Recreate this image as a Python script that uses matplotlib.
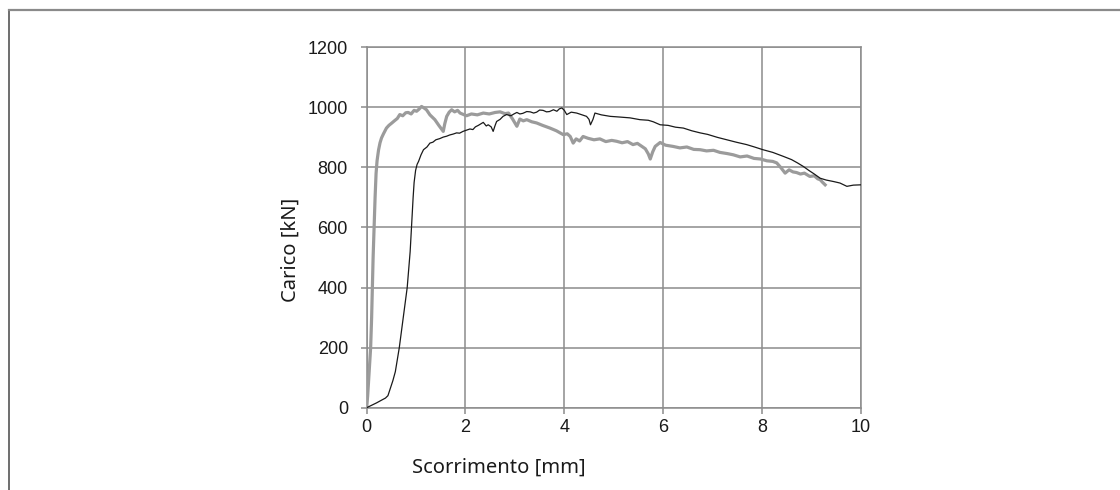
import matplotlib
matplotlib.use('Agg')
import matplotlib.pyplot as plt
from matplotlib.lines import Line2D

# Prova di scorrimento: due provini, carico vs scorrimento
slip_grey = [0.0, 0.02, 0.05, 0.08, 0.10, 0.115, 0.13, 0.15, 0.17, 0.19, 0.21, 0.24,
             0.27, 0.30, 0.34, 0.40, 0.45, 0.51, 0.56, 0.62, 0.67, 0.73, 0.79, 0.84,
             0.90, 0.96, 1.01, 1.06, 1.11, 1.16, 1.21, 1.28, 1.38, 1.46, 1.55, 1.58,
             1.62, 1.67, 1.72, 1.78, 1.84, 1.89, 2.02, 2.12, 2.24, 2.36, 2.48, 2.60,
             2.70, 2.80, 2.87, 2.95, 3.04, 3.10, 3.17, 3.24, 3.34, 3.44, 3.56, 3.71,
             3.84, 3.98, 4.06, 4.12, 4.18, 4.24, 4.31, 4.38, 4.48, 4.60, 4.72, 4.84,
             4.96, 5.06, 5.17, 5.28, 5.39, 5.48, 5.57, 5.64, 5.70, 5.74, 5.79, 5.84,
             5.94, 6.05, 6.20, 6.34, 6.48, 6.62, 6.75, 6.88, 7.02, 7.15, 7.30, 7.42,
             7.56, 7.70, 7.84, 7.97, 8.10, 8.22, 8.30, 8.38, 8.47, 8.55, 8.63, 8.70,
             8.78, 8.86, 8.97, 9.06, 9.13, 9.18, 9.23, 9.28]
load_grey = [0, 40, 120, 200, 300, 400, 500, 600, 700, 780, 822, 858,
             882, 898, 912, 931, 940, 948, 955, 963, 976, 972, 982, 983,
             978, 990, 987, 994, 1003, 998, 992, 975, 959, 940, 920, 945,
             970, 984, 992, 985, 990, 981, 972, 978, 975, 981, 978, 983,
             985, 979, 981, 962, 937, 961, 955, 959, 952, 948, 940, 931,
             922, 909, 912, 903, 881, 895, 888, 903, 897, 892, 895, 886,
             890, 887, 882, 886, 876, 880, 870, 862, 845, 828, 852, 870,
             883, 874, 870, 865, 868, 860, 859, 855, 857, 850, 846, 842,
             835, 838, 830, 828, 822, 820, 815, 800, 781, 792, 785, 783,
             778, 781, 770, 772, 762, 759, 750, 742]

slip_black = [0.0, 0.10, 0.20, 0.30, 0.38, 0.43, 0.48, 0.53, 0.58, 0.62, 0.66, 0.70,
              0.74, 0.78, 0.82, 0.85, 0.88, 0.90, 0.92, 0.94, 0.96, 0.99, 1.02, 1.05,
              1.10, 1.15, 1.22, 1.28, 1.34, 1.40, 1.48, 1.55, 1.62, 1.68, 1.75, 1.82,
              1.88, 1.95, 2.02, 2.09, 2.15, 2.20, 2.26, 2.30, 2.36, 2.42, 2.46, 2.52,
              2.56, 2.60, 2.63, 2.70, 2.76, 2.83, 2.92, 2.98, 3.04, 3.10, 3.16, 3.24,
              3.31, 3.38, 3.44, 3.50, 3.57, 3.64, 3.70, 3.78, 3.85, 3.90, 3.95, 4.00,
              4.05, 4.14, 4.25, 4.36, 4.45, 4.50, 4.53, 4.58, 4.62, 4.75, 4.93, 5.10,
              5.33, 5.53, 5.70, 5.80, 5.94, 6.10, 6.25, 6.41, 6.58, 6.75, 6.90, 7.10,
              7.29, 7.48, 7.69, 7.85, 8.02, 8.22, 8.43, 8.60, 8.72, 8.84, 8.95, 9.06,
              9.18, 9.30, 9.45, 9.58, 9.72, 9.85, 10.0]
load_black = [0, 8, 16, 25, 32, 40, 65, 90, 120, 160, 200, 250,
              300, 350, 400, 460, 520, 580, 640, 700, 750, 790, 810, 820,
              842, 859, 868, 881, 884, 892, 896, 901, 904, 908, 911, 915,
              914, 920, 924, 928, 926, 935, 940, 944, 950, 938, 942, 935,
              920, 940, 953, 960, 970, 976, 972, 978, 983, 978, 980, 986,
              985, 981, 984, 991, 990, 985, 986, 992, 987, 995, 998, 990,
              976, 984, 981, 975, 970, 960, 942, 960, 981, 975, 970, 968,
              965, 959, 957, 952, 942, 940, 934, 931, 922, 915, 910, 900,
              892, 884, 876, 868, 859, 850, 837, 826, 815, 803, 790, 778,
              764, 758, 753, 748, 737, 741, 742]

x_ticks = [0, 2, 4, 6, 8, 10]
y_ticks = [0, 200, 400, 600, 800, 1000, 1200]

grid_grey = '#8c8c8c'

fig = plt.figure(figsize=(11.2, 4.9), dpi=100)
ax = fig.add_axes([0.3274, 0.1680, 0.4411, 0.7355])

ax.plot(slip_grey, load_grey, color='#9b9b9b', linewidth=2.3, solid_joinstyle='round', zorder=3)
ax.plot(slip_black, load_black, color='#1a1a1a', linewidth=0.9, zorder=4)

ax.set_xlim(0, 10)
ax.set_ylim(0, 1200)
ax.set_xticks(x_ticks)
ax.set_yticks(y_ticks)
ax.grid(True, color=grid_grey, linewidth=1.1)
ax.set_axisbelow(True)
for sp in ax.spines.values():
    sp.set_color(grid_grey)
    sp.set_linewidth(1.1)
ax.tick_params(axis='both', colors=grid_grey, length=4.5, width=1.1,
               labelcolor='#1a1a1a', labelsize=13)
ax.tick_params(axis='y', pad=9)
ax.tick_params(axis='x', pad=4)
for lab in ax.get_xticklabels() + ax.get_yticklabels():
    lab.set_fontfamily('Liberation Sans')

# titoli degli assi, posizionati in coordinate figura
fig.text(499 / 1120, 1 - 468 / 490, 'Scorrimento [mm]', ha='center', va='center',
         fontsize=14.5, family='Noto Sans', color='#1a1a1a')
fig.text(291 / 1120, 1 - 250 / 490, 'Carico [kN]', ha='center', va='center',
         rotation=90, fontsize=14.5, family='Noto Sans', color='#1a1a1a')

# cornice (solo lati sinistro e superiore)
fig.add_artist(Line2D([8.5 / 1120, 8.5 / 1120], [0, 1 - 10.5 / 490],
                      transform=fig.transFigure, color='#555555', linewidth=1.2))
fig.add_artist(Line2D([8.5 / 1120, 1], [1 - 10.5 / 490, 1 - 10.5 / 490],
                      transform=fig.transFigure, color='#8a8a8a', linewidth=1.6))

fig.savefig('out.png', dpi=100)
